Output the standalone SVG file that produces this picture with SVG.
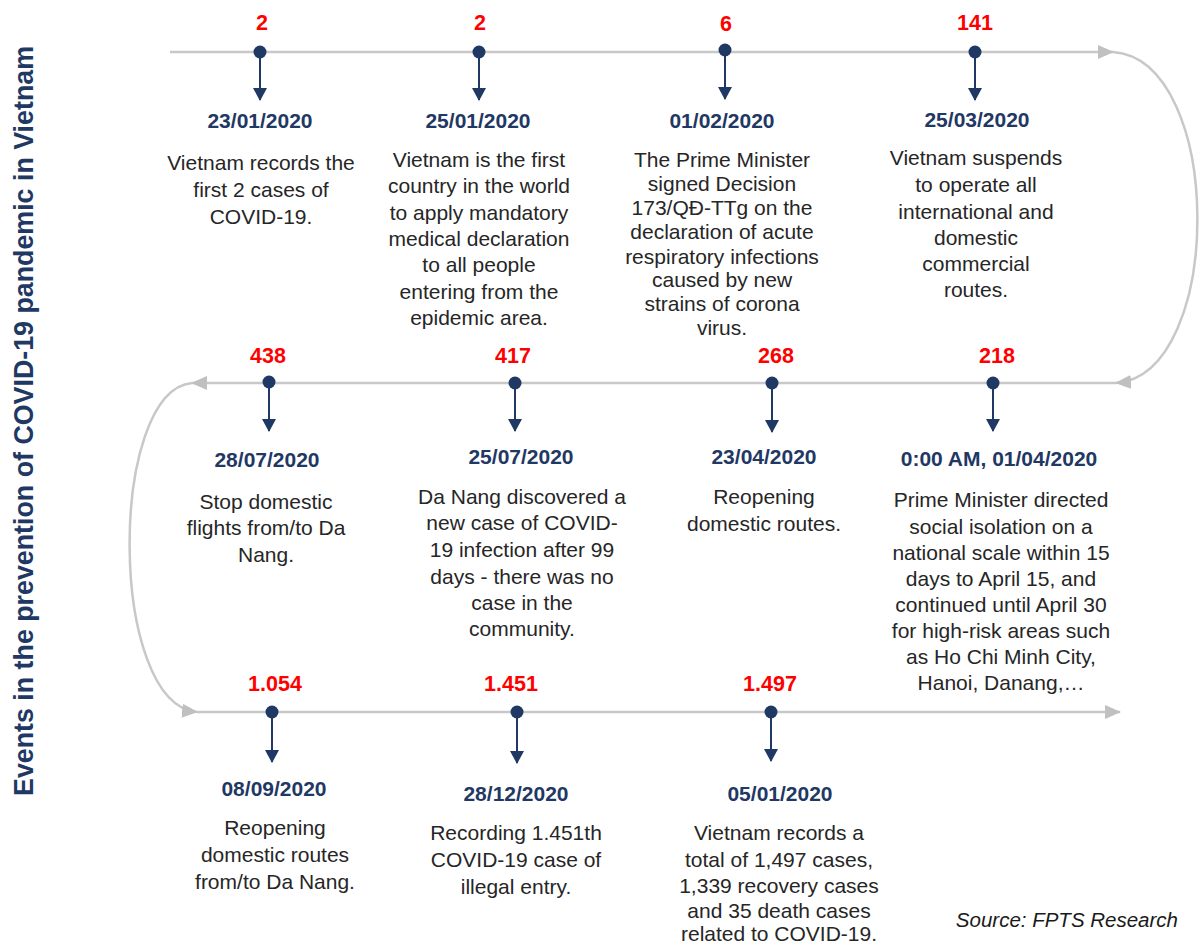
<svg xmlns="http://www.w3.org/2000/svg" width="1200" height="946" viewBox="0 0 1200 946">
<style>
.num{font-family:"Liberation Sans",Arial,sans-serif;font-weight:bold;font-size:21.5px;fill:#ff0000;text-anchor:middle}
.date{font-family:"Liberation Sans",Arial,sans-serif;font-weight:bold;font-size:21px;fill:#1f3864;text-anchor:middle}
.desc{font-family:"Liberation Sans",Arial,sans-serif;font-size:21px;fill:#262626;text-anchor:middle}
.gl{stroke:#c8c8c8;stroke-width:2.5;fill:none;marker-end:url(#ga)}
.stem{stroke:#1f3864;stroke-width:2;marker-end:url(#na)}
.dot{fill:#1f3864}
</style>
<defs>
<marker id="ga" viewBox="0 0 16 14" refX="15" refY="7" markerWidth="16" markerHeight="14" markerUnits="userSpaceOnUse" orient="auto"><path d="M0,0 L16,7 L0,14 z" fill="#c0c0c0"/></marker>
<marker id="na" viewBox="0 0 13 14" refX="12" refY="7" markerWidth="13" markerHeight="14" markerUnits="userSpaceOnUse" orient="auto"><path d="M0,0 L13,7 L0,14 z" fill="#1f3864"/></marker>
</defs>
<rect width="1200" height="946" fill="#ffffff"/>
<text transform="translate(33,421) rotate(-90)" font-family="Liberation Sans, Arial, sans-serif" font-weight="bold" font-size="26.8" fill="#1f3864" text-anchor="middle">Events in the prevention of COVID-19 pandemic in Vietnam</text>
<g id="connectors">
<line class="gl" x1="170" y1="52" x2="1113" y2="52"/>
<path class="gl" d="M1113,52 C1225,60 1225,375 1116,383"/>
<line class="gl" x1="1116" y1="383" x2="192" y2="383"/>
<path class="gl" d="M192,383 C108,391 108,704 197,712"/>
<line class="gl" x1="197" y1="712" x2="1120" y2="712"/>
</g>
<g id="e1">
<text class="num" x="262" y="30">2</text>
<line class="stem" x1="260" y1="52" x2="260" y2="100"/><circle class="dot" cx="260" cy="52" r="6.5"/>
<text class="date" x="260" y="128">23/01/2020</text>
<text class="desc"><tspan x="261" y="170">Vietnam records the</tspan><tspan x="261" y="197">first 2 cases of</tspan><tspan x="261" y="224">COVID-19.</tspan></text>
</g>
<g id="e2">
<text class="num" x="480" y="30">2</text>
<line class="stem" x1="479" y1="52" x2="479" y2="100"/><circle class="dot" cx="479" cy="52" r="6.5"/>
<text class="date" x="478" y="128">25/01/2020</text>
<text class="desc"><tspan x="479" y="167">Vietnam is the first</tspan><tspan x="479" y="193">country in the world</tspan><tspan x="479" y="220">to apply mandatory</tspan><tspan x="479" y="246">medical declaration</tspan><tspan x="479" y="272">to all people</tspan><tspan x="479" y="299">entering from the</tspan><tspan x="479" y="325">epidemic area.</tspan></text>
</g>
<g id="e3">
<text class="num" x="726" y="31" font-size="19">6</text>
<line class="stem" x1="725" y1="50" x2="725" y2="99"/><circle class="dot" cx="725" cy="50" r="6.5"/>
<text class="date" x="722" y="128">01/02/2020</text>
<text class="desc"><tspan x="722" y="167">The Prime Minister</tspan><tspan x="722" y="191">signed Decision</tspan><tspan x="722" y="215">173/QĐ-TTg on the</tspan><tspan x="722" y="239">declaration of acute</tspan><tspan x="722" y="264">respiratory infections</tspan><tspan x="722" y="287">caused by new</tspan><tspan x="722" y="311">strains of corona</tspan><tspan x="722" y="335">virus.</tspan></text>
</g>
<g id="e4">
<text class="num" x="975" y="30">141</text>
<line class="stem" x1="975" y1="52" x2="975" y2="100"/><circle class="dot" cx="975" cy="52" r="6.5"/>
<text class="date" x="977" y="127">25/03/2020</text>
<text class="desc"><tspan x="976" y="165">Vietnam suspends</tspan><tspan x="976" y="192">to operate all</tspan><tspan x="976" y="219">international and</tspan><tspan x="976" y="245">domestic</tspan><tspan x="976" y="271">commercial</tspan><tspan x="976" y="297">routes.</tspan></text>
</g>
<g id="e5">
<text class="num" x="997" y="363">218</text>
<line class="stem" x1="993" y1="383" x2="993" y2="431"/><circle class="dot" cx="993" cy="383" r="6.5"/>
<text class="date" x="999" y="466">0:00 AM, 01/04/2020</text>
<text class="desc"><tspan x="1001" y="507">Prime Minister directed</tspan><tspan x="1001" y="534">social isolation on a</tspan><tspan x="1001" y="560">national scale within 15</tspan><tspan x="1001" y="586">days to April 15, and</tspan><tspan x="1001" y="612">continued until April 30</tspan><tspan x="1001" y="638">for high-risk areas such</tspan><tspan x="1001" y="664">as Ho Chi Minh City,</tspan><tspan x="1001" y="690">Hanoi, Danang,…</tspan></text>
</g>
<g id="e6">
<text class="num" x="776" y="363">268</text>
<line class="stem" x1="772" y1="383" x2="772" y2="432"/><circle class="dot" cx="772" cy="383" r="6.5"/>
<text class="date" x="764" y="464">23/04/2020</text>
<text class="desc"><tspan x="764" y="504">Reopening</tspan><tspan x="764" y="531">domestic routes.</tspan></text>
</g>
<g id="e7">
<text class="num" x="513" y="363">417</text>
<line class="stem" x1="515" y1="383" x2="515" y2="431"/><circle class="dot" cx="515" cy="383" r="6.5"/>
<text class="date" x="521" y="464">25/07/2020</text>
<text class="desc"><tspan x="522" y="504">Da Nang discovered a</tspan><tspan x="522" y="530">new case of COVID-</tspan><tspan x="522" y="557">19 infection after 99</tspan><tspan x="522" y="584">days - there was no</tspan><tspan x="522" y="610">case in the</tspan><tspan x="522" y="636">community.</tspan></text>
</g>
<g id="e8">
<text class="num" x="268" y="363">438</text>
<line class="stem" x1="269" y1="382" x2="269" y2="431"/><circle class="dot" cx="269" cy="382" r="6.5"/>
<text class="date" x="267" y="467">28/07/2020</text>
<text class="desc"><tspan x="266" y="509">Stop domestic</tspan><tspan x="266" y="535">flights from/to Da</tspan><tspan x="266" y="562">Nang.</tspan></text>
</g>
<g id="e9">
<text class="num" x="275" y="691">1.054</text>
<line class="stem" x1="272" y1="712" x2="272" y2="762"/><circle class="dot" cx="272" cy="712" r="6.5"/>
<text class="date" x="274" y="796">08/09/2020</text>
<text class="desc"><tspan x="275" y="835">Reopening</tspan><tspan x="275" y="862">domestic routes</tspan><tspan x="275" y="889">from/to Da Nang.</tspan></text>
</g>
<g id="e10">
<text class="num" x="511" y="691">1.451</text>
<line class="stem" x1="517" y1="712" x2="517" y2="763"/><circle class="dot" cx="517" cy="712" r="6.5"/>
<text class="date" x="516" y="801">28/12/2020</text>
<text class="desc"><tspan x="516" y="840">Recording 1.451th</tspan><tspan x="516" y="867">COVID-19 case of</tspan><tspan x="516" y="894">illegal entry.</tspan></text>
</g>
<g id="e11">
<text class="num" x="770" y="691">1.497</text>
<line class="stem" x1="771" y1="712" x2="771" y2="761"/><circle class="dot" cx="771" cy="712" r="6.5"/>
<text class="date" x="780" y="801">05/01/2020</text>
<text class="desc"><tspan x="779" y="840">Vietnam records a</tspan><tspan x="779" y="867">total of 1,497 cases,</tspan><tspan x="779" y="893">1,339 recovery cases</tspan><tspan x="779" y="918">and 35 death cases</tspan><tspan x="779" y="941">related to COVID-19.</tspan></text>
</g>
<text x="1178" y="927" font-family="Liberation Sans, Arial, sans-serif" font-style="italic" font-size="20.5" fill="#1a1a1a" text-anchor="end">Source: FPTS Research</text>
</svg>
